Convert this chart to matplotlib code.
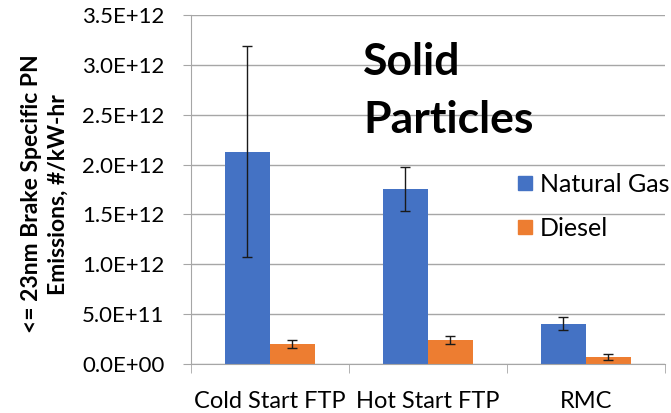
import numpy as np
from matplotlib import pyplot as plt
from matplotlib.lines import Line2D

categories = ["Cold Start FTP", "Hot Start FTP", "RMC"]
natural_gas = [2.13e12, 1.755e12, 0.405e12]
natural_gas_err = [1.06e12, 0.225e12, 0.068e12]
diesel = [0.205e12, 0.238e12, 0.07e12]
diesel_err = [0.04e12, 0.04e12, 0.028e12]
y_ticks = np.arange(0, 3.51e12, 0.5e12)
y_tick_labels = ["0.0E+00", "5.0E+11", "1.0E+12", "1.5E+12",
                 "2.0E+12", "2.5E+12", "3.0E+12", "3.5E+12"]

plt.rcParams["font.family"] = ["Lato", "DejaVu Sans"]

fig = plt.figure(figsize=(6.71, 4.13), dpi=100)
ax = fig.add_axes([0.2846, 0.1186, 0.7064, 0.8451])

x = np.arange(len(categories))
w = 0.285
ax.bar(x - w / 2, natural_gas, w, color="#4472C4", zorder=2)
ax.bar(x + w / 2, diesel, w, color="#ED7D31", zorder=2)
ax.errorbar(x - w / 2, natural_gas, yerr=natural_gas_err, fmt="none",
            ecolor="#1a1a1a", elinewidth=1, capsize=3.3, capthick=1, zorder=3)
ax.errorbar(x + w / 2, diesel, yerr=diesel_err, fmt="none",
            ecolor="#1a1a1a", elinewidth=1, capsize=3.3, capthick=1, zorder=3)

ax.set_xlim(-0.5, len(categories) - 0.5)
ax.set_ylim(0, 3.5e12)
ax.set_yticks(y_ticks)
ax.set_yticklabels(y_tick_labels)
ax.yaxis.grid(True, color="#A6A6A6", linewidth=1, zorder=0)

ax.set_xticks(x)
ax.set_xticklabels(categories)
ax.set_xticks(np.arange(-0.5, len(categories)), minor=True)
ax.tick_params(axis="x", which="major", length=0, pad=19.5, labelsize=17)
ax.tick_params(axis="x", which="minor", length=6.5, color="#A6A6A6")
ax.tick_params(axis="y", length=6, color="#A6A6A6", labelsize=16, pad=13)

for side in ["top", "right"]:
    ax.spines[side].set_visible(False)
ax.spines["left"].set_color("#A6A6A6")
ax.spines["bottom"].set_color("#A6A6A6")

fig.text(0.067, 0.53, "<= 23nm Brake Specific PN\nEmissions, #/kW-hr",
         rotation=90, ha="center", va="center", multialignment="center",
         fontsize=16.5, fontweight="bold", linespacing=1.3)

ax.text(0.363, 0.828, "Solid", transform=ax.transAxes,
        fontsize=32, fontweight="bold", va="baseline", ha="left")
ax.text(0.363, 0.662, "Particles", transform=ax.transAxes,
        fontsize=32, fontweight="bold", va="baseline", ha="left")

handles = [Line2D([], [], marker="s", linestyle="none", markersize=10,
                  color=c) for c in ["#4472C4", "#ED7D31"]]
ax.legend(handles, ["Natural Gas", "Diesel"], loc="upper left",
          bbox_to_anchor=(0.679, 0.548), frameon=False, fontsize=18,
          handletextpad=0.12, labelspacing=0.85, handlelength=0.95,
          borderpad=0, borderaxespad=0)

fig.savefig("out.png", dpi=100)
